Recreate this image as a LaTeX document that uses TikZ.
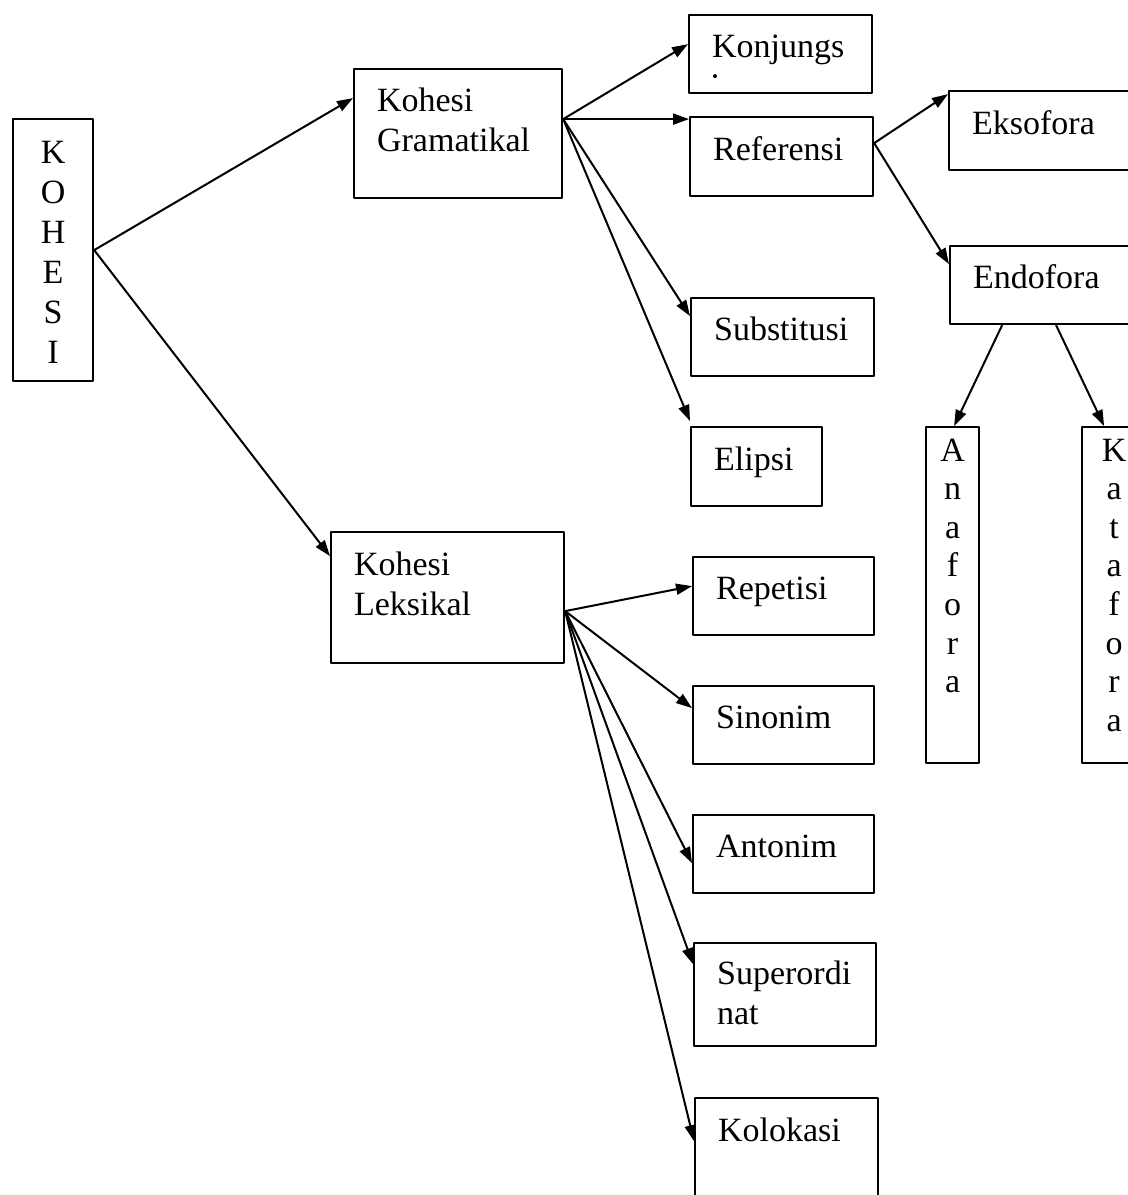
\documentclass[tikz,border=0pt]{standalone}
\usepackage{fontspec}
\setmainfont{Liberation Serif}
\usepackage{tikz}
\usetikzlibrary{arrows.meta}
\newcommand{\teks}{\fontsize{34}{40}\selectfont}
\newcommand{\tegakteks}{\fontsize{34}{38.6}\selectfont}
\tikzset{
  kotak/.style={draw, line width=2.2pt, rectangle, anchor=north west, inner xsep=23pt, inner ysep=0pt, text height=23pt, align=left, font=\teks},
  satu/.style={kotak, text depth=16pt, minimum height=78pt},
  dua/.style={kotak, text depth=67pt},
  tegak/.style={draw, line width=2.2pt, rectangle, anchor=north west, inner sep=0pt, align=center, text height=23pt, font=\tegakteks},
  panah/.style={-{Triangle[length=16pt,width=11pt]}, line width=2pt}
}
\begin{document}
\begin{tikzpicture}[line cap=round,line join=round,x=1pt,y=-1pt]
\useasboundingbox (0,0) rectangle (1128,1195);
\clip (0,0) rectangle (1128,1195);
\fill[white] (0,0) rectangle (1128,1195);
\node[tegak, font=\teks, text width=80pt, minimum height=262pt, text depth=197pt] (kohesi) at (12,118) {K\\O\\H\\E\\S\\I};
\node[dua, text width=162pt, minimum height=129pt] (kg) at (353,68) {Kohesi\\Gramatikal};
\node[dua, text width=187pt, minimum height=131pt] (kl) at (330,531) {Kohesi\\Leksikal};
\node[satu, text width=137pt] (konj) at (688,14) {Konjungs};
\fill ([xshift=27pt,yshift=-22pt]konj.west) circle (2pt);
\node[satu, text width=137pt, minimum height=79pt] (ref) at (689,116) {Referensi};
\node[satu, text width=137pt] (sub) at (690,297) {Substitusi};
\node[satu, text width=85pt, minimum height=79pt] (elip) at (690,426) {Elipsi};
\node[satu, text width=154pt, minimum height=79pt] (eks) at (948,90) {Eksofora};
\node[satu, text width=154pt] (endo) at (949,245) {Endofora};
\node[tegak, text width=53pt, minimum height=336pt, text depth=291pt] (ana) at (925,426) {A\\n\\a\\f\\o\\r\\a};
\node[tegak, text width=64pt, minimum height=336pt, text depth=291pt] (kata) at (1081,426) {K\\a\\t\\a\\f\\o\\r\\a};
\node[satu, text width=135pt] (rep) at (692,556) {Repetisi};
\node[satu, text width=135pt] (sin) at (692,685) {Sinonim};
\node[satu, text width=135pt] (ant) at (692,814) {Antonim};
\node[kotak, text width=136pt, minimum height=103pt, text depth=44pt] (sup) at (693,942) {Superordi\\nat};
\node[dua, text width=137pt, minimum height=130pt] (kol) at (694,1097) {Kolokasi};
\draw[panah] (kohesi.east) -- ([yshift=35.5pt]kg.west);
\draw[panah] (kohesi.east) -- ([yshift=41.5pt]kl.west);
\draw[panah] ([yshift=14.5pt]kg.east) -- ([yshift=10pt]konj.west);
\draw[panah] ([yshift=14.5pt]kg.east) -- ([yshift=37.5pt]ref.west);
\draw[panah] ([yshift=14.5pt]kg.east) -- ([yshift=21pt]sub.west);
\draw[panah] ([yshift=14.5pt]kg.east) -- ([yshift=5pt]elip.north west);
\draw[panah] ([yshift=13.5pt]ref.east) -- ([yshift=36.5pt]eks.west);
\draw[panah] ([yshift=13.5pt]ref.east) -- ([yshift=21pt]endo.west);
\draw[panah] ([xshift=-48pt]endo.south) -- ([xshift=1.5pt]ana.north);
\draw[panah] ([xshift=6pt]endo.south) -- ([xshift=-10pt]kata.north);
\draw[panah] ([yshift=-13.5pt]kl.east) -- ([yshift=10pt]rep.west);
\draw[panah] ([yshift=-13.5pt]kl.east) -- ([yshift=17pt]sin.west);
\draw[panah] ([yshift=-13.5pt]kl.east) -- ([yshift=-9pt]ant.west);
\draw[panah] ([yshift=-13.5pt]kl.east) -- ([yshift=30.5pt]sup.west);
\draw[panah] ([yshift=-13.5pt]kl.east) -- ([yshift=22pt]kol.west);
\end{tikzpicture}
\end{document}
